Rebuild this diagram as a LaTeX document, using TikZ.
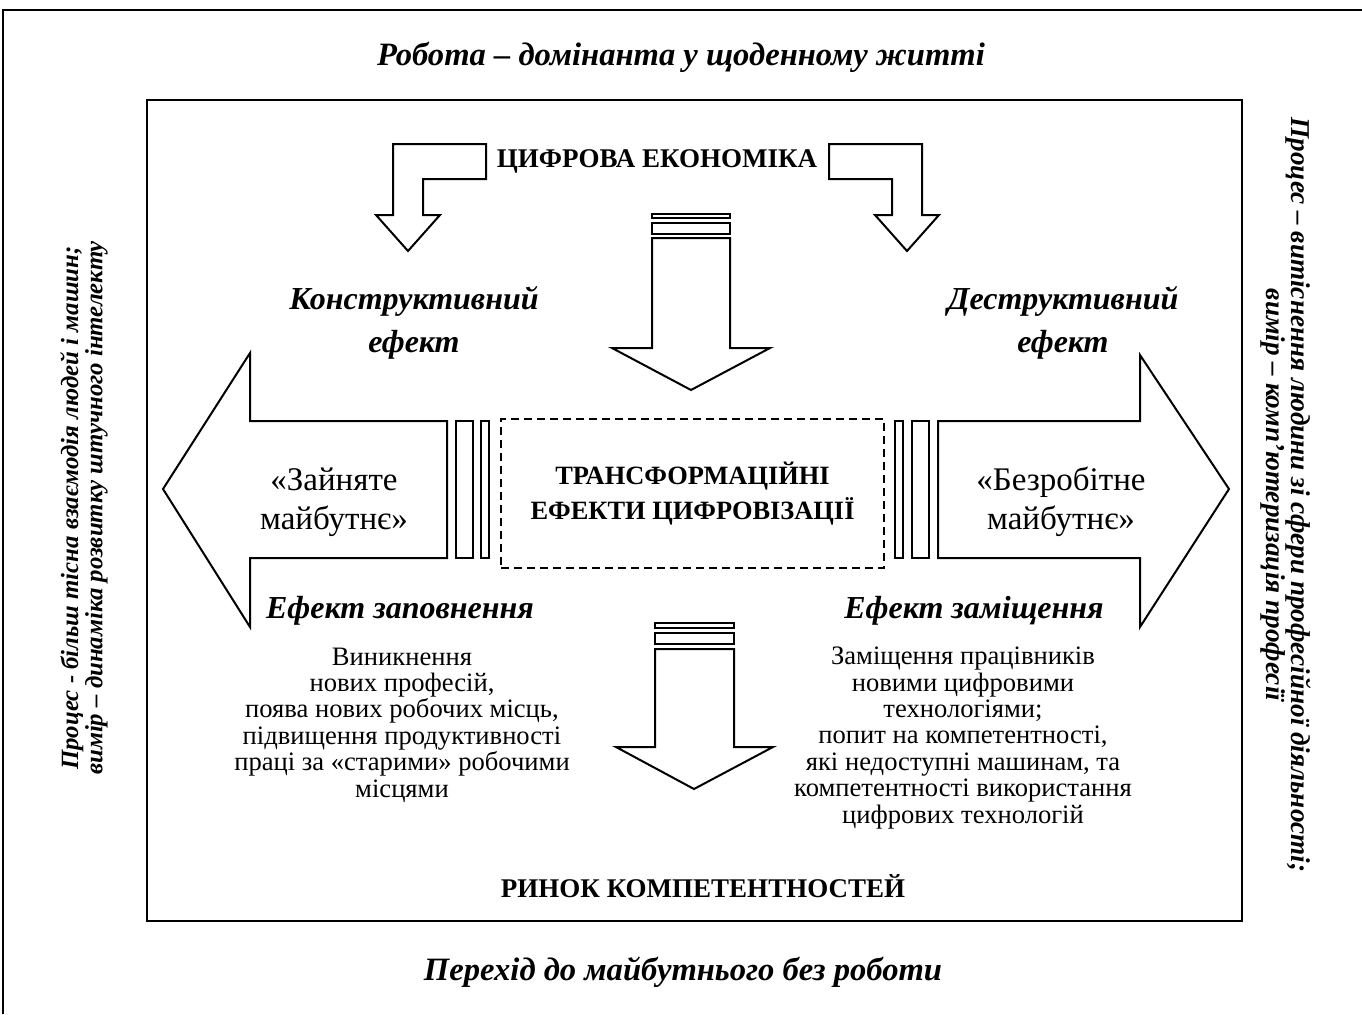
\documentclass[tikz,border=0pt]{standalone}
\usepackage{fontspec}
\setmainfont{Liberation Serif}
\tikzset{
    txt_title/.style = {font=\fontsize{16.3}{18}\selectfont\bfseries\itshape, align=center, inner sep=0pt},
    txt_caps/.style = {font=\fontsize{13.5}{16}\selectfont\bfseries, align=center, inner sep=0pt},
    txt_effect/.style = {font=\fontsize{16}{21.5}\selectfont\bfseries\itshape, align=center, inner sep=0pt},
    txt_future/.style = {font=\fontsize{16.5}{19.5}\selectfont, align=center, inner sep=0pt},
    txt_body/.style = {font=\fontsize{13.3}{13.2}\selectfont, align=center, inner sep=0pt},
    txt_side/.style = {font=\fontsize{12.4}{12.2}\selectfont\bfseries\itshape, align=center, inner sep=0pt},
    block_arrow/.style = {draw=black, line width=1pt, fill=white, line join=miter},
    center_box/.style = {draw=black, dashed, dash pattern=on 4pt off 2.5pt, line width=0.8pt,
        minimum width=191.5pt, minimum height=74.5pt, align=center,
        font=\fontsize{13.2}{17.5}\selectfont\bfseries}
}
\begin{document}
\begin{tikzpicture}[x=0.5pt, y=-0.5pt]
\useasboundingbox (0,0) rectangle (1362,1014);
% frames
\draw[line width=1.2pt] (3,1014) -- (3,10) -- (1362,10);
\draw[line width=1.3pt] (147,100) rectangle (1242,921);

% bent arrows under the header
\draw[block_arrow] (393,144) -- (486,144) -- (486,179) -- (423,179) -- (423,215) -- (440,215)
    -- (408,251) -- (376,215) -- (393,215) -- cycle;
\draw[block_arrow] (922,144) -- (829,144) -- (829,179) -- (892,179) -- (892,215) -- (875,215)
    -- (907,251) -- (939,215) -- (922,215) -- cycle;

% central arrows
\draw[block_arrow] (652,214) rectangle (730,218);
\draw[block_arrow] (652,223) rectangle (730,234);
\draw[block_arrow] (652,238) -- (730,238) -- (730,348) -- (770,348) -- (691,390) -- (612,348)
    -- (652,348) -- cycle;
\draw[block_arrow] (655,623) rectangle (734,628);
\draw[block_arrow] (655,633) rectangle (734,644);
\draw[block_arrow] (655,649) -- (734,649) -- (734,747) -- (773,747) -- (694,789) -- (616,747)
    -- (655,747) -- cycle;

% left and right arrows
\draw[block_arrow] (447,421) -- (250,421) -- (250,353) -- (163,489) -- (250,627) -- (250,558)
    -- (447,558) -- cycle;
\draw[block_arrow] (456,421) rectangle (473,558);
\draw[block_arrow] (481,421) rectangle (489,558);
\draw[block_arrow] (938,421) -- (1140,421) -- (1140,355) -- (1229,489) -- (1140,627) -- (1140,558)
    -- (938,558) -- cycle;
\draw[block_arrow] (895,421) rectangle (903,558);
\draw[block_arrow] (912,421) rectangle (929,558);

\node[center_box] (transform) at (692.5,493.5) {ТРАНСФОРМАЦІЙНІ\\ЕФЕКТИ ЦИФРОВІЗАЦІЇ};

% texts
\node[txt_title] (work) at (681,57) {Робота – домінанта у щоденному житті};
\node[txt_title] (nowork) at (683,972) {Перехід до майбутнього без роботи};
\node[txt_caps] (digital) at (657,161) {ЦИФРОВА ЕКОНОМІКА};
\node[txt_caps] (market) at (703,886) {РИНОК КОМПЕТЕНТНОСТЕЙ};
\node[txt_effect] (constr) at (414,323) {Конструктивний\\ефект};
\node[txt_effect] (destr) at (1063,323) {Деструктивний\\ефект};
\node[txt_future] (busy) at (334,502) {«Зайняте\\майбутнє»};
\node[txt_future] (jobless) at (1061,502) {«Безробітне\\майбутнє»};
\node[txt_effect] (fill) at (400,611) {Ефект заповнення};
\node[txt_effect] (replace) at (974,611) {Ефект заміщення};
\node[txt_body] (fill_text) at (402,725) {Виникнення\\нових професій,\\поява нових робочих місць,\\
    підвищення продуктивності\\праці за «старими» робочими\\місцями};
\node[txt_body] (replace_text) at (963,738) {Заміщення працівників\\новими цифровими\\технологіями;\\
    попит на компетентності,\\які недоступні машинам, та\\компетентності використання\\цифрових технологій};
\node[txt_side, rotate=90] (side_left) at (84,508)
    {Процес - більш тісна взаємодія людей і машин;\\вимір – динаміка розвитку штучного інтелекту};
\node[txt_side, rotate=-90, font=\fontsize{13.6}{12.6}\selectfont\bfseries\itshape] (side_right) at (1286,495)
    {Процес – витіснення людини зі сфери професійної діяльності;\\вимір – комп’ютеризація професії};
\end{tikzpicture}
\end{document}
